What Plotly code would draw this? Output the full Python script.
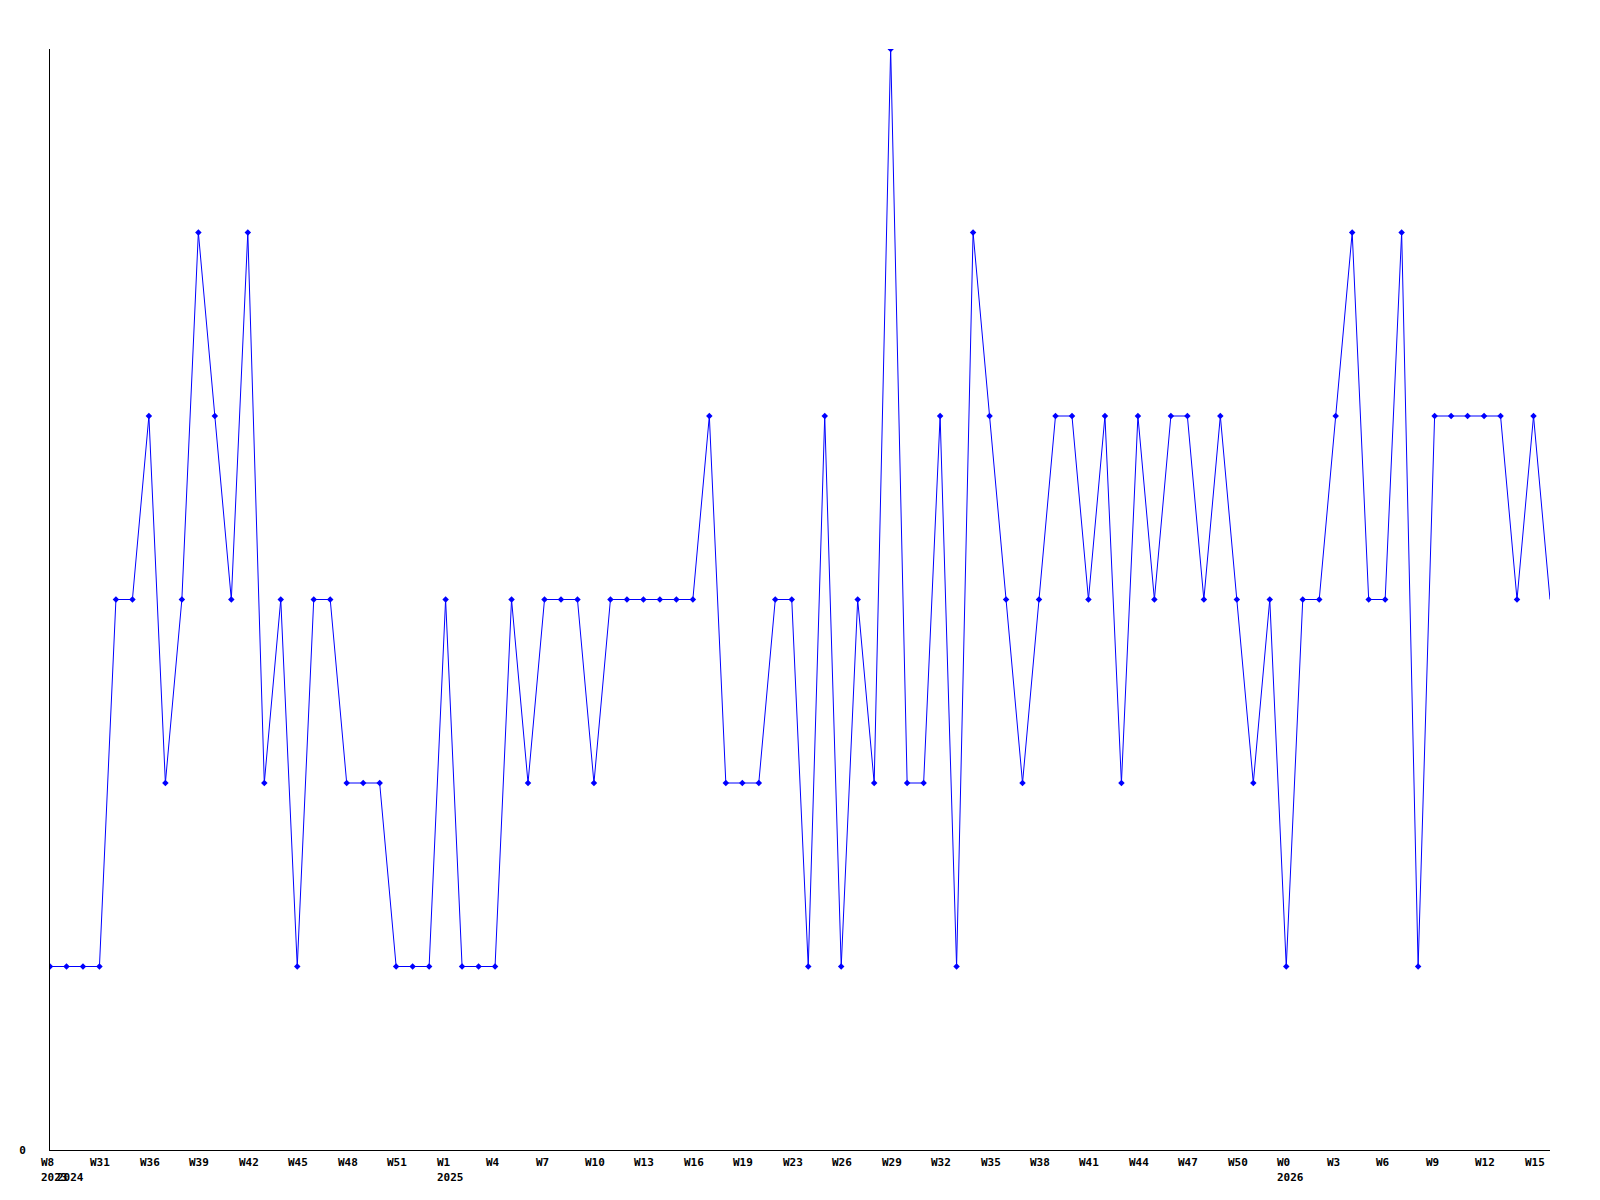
import plotly.graph_objects as go

values = [1, 1, 1, 1, 3, 3, 4, 2, 3, 5, 4, 3, 5, 2, 3, 1, 3, 3, 2, 2,
          2, 1, 1, 1, 3, 1, 1, 1, 3, 2, 3, 3, 3, 2, 3, 3, 3, 3, 3, 3,
          4, 2, 2, 2, 3, 3, 1, 4, 1, 3, 2, 6, 2, 2, 4, 1, 5, 4, 3, 2,
          3, 4, 4, 3, 4, 2, 4, 3, 4, 4, 3, 4, 3, 2, 3, 1, 3, 3, 4, 5,
          3, 3, 5, 1, 4, 4, 4, 4, 4, 3, 4, 3]
x_index = list(range(len(values)))

week_tick_pos = list(range(0, 91, 3))
week_tick_text = ["W8", "W31", "W36", "W39", "W42", "W45", "W48", "W51", "W1", "W4",
                  "W7", "W10", "W13", "W16", "W19", "W23", "W26", "W29", "W32", "W35",
                  "W38", "W41", "W44", "W47", "W50", "W0", "W3", "W6", "W9", "W12", "W15"]
year_tick_pos = [0, 1, 24, 75]
year_tick_text = ["2023", "2024", "2025", "2026"]

FONT = dict(family="DejaVu Sans Mono", size=11, color="black")

marker_opacity = [1] * (len(values) - 1) + [0]

fig = go.Figure()
fig.add_trace(go.Scatter(
    x=x_index, y=values, mode="lines+markers",
    line=dict(color="#0000ff", width=1),
    marker=dict(symbol="diamond", size=5, color="#0000ff", opacity=marker_opacity),
    hoverinfo="skip", showlegend=False,
))

annotations = []
for p, t in zip(week_tick_pos, week_tick_text):
    annotations.append(dict(x=p, y=0, xref="x", yref="paper", text="<b>%s</b>" % t,
                            showarrow=False, xanchor="left", yanchor="middle",
                            xshift=-11, yshift=-12, font=FONT))
for p, t in zip(year_tick_pos, year_tick_text):
    annotations.append(dict(x=p, y=0, xref="x", yref="paper", text="<b>%s</b>" % t,
                            showarrow=False, xanchor="left", yanchor="middle",
                            xshift=-11, yshift=-27, font=FONT))

fig.update_layout(
    width=1592, height=1192,
    margin=dict(l=42, r=50, t=41, b=50),
    paper_bgcolor="white", plot_bgcolor="white",
    xaxis=dict(range=[0, len(values) - 1], showgrid=False, zeroline=False,
               showline=True, linecolor="black", linewidth=1,
               showticklabels=False, ticks=""),
    yaxis=dict(range=[0, 6], showgrid=False, zeroline=False,
               showline=True, linecolor="black", linewidth=1,
               tickvals=[0], ticktext=["<b>0</b>"], ticks="outside", ticklen=21,
               tickcolor="rgba(0,0,0,0)", tickfont=FONT),
    annotations=annotations,
)
fig.write_html("out.html")
